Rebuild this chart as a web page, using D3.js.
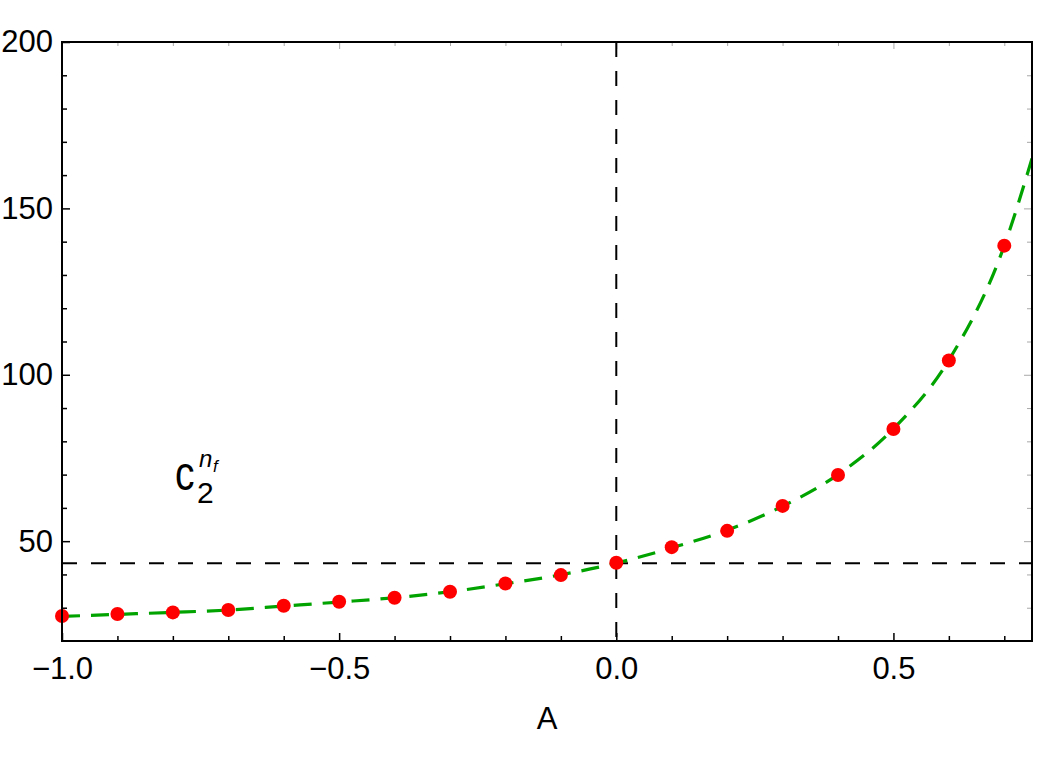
<!DOCTYPE html>
<html>
<head>
<meta charset="utf-8">
<script src="https://cdn.jsdelivr.net/npm/d3@7"></script>
<style>
  html, body { margin: 0; padding: 0; background: #fff; }
  svg { display: block; }
  text { font-family: "Liberation Sans", Arial, sans-serif; fill: #000; }
</style>
</head>
<body>
<svg id="chart" width="1042" height="761"></svg>
<script>
// ---- data ----
const aValues  = [-1.0, -0.9, -0.8, -0.7, -0.6, -0.5, -0.4, -0.3, -0.2, -0.1, 0.0, 0.1, 0.2, 0.3, 0.4, 0.5, 0.6, 0.7];
const c2Values = [27.5, 28.1, 28.6, 29.3, 30.6, 31.8, 33.0, 34.8, 37.3, 39.8, 43.5, 48.2, 53.1, 60.6, 69.9, 83.7, 104.3, 138.8];
const curveA   = [-1.0, -0.9, -0.8, -0.7, -0.6, -0.5, -0.4, -0.3, -0.2, -0.1, 0.0, 0.1, 0.2, 0.3, 0.4, 0.5, 0.6, 0.7, 0.75];
const curveC2  = [27.4, 28.0, 28.6, 29.3, 30.5, 31.7, 33.0, 34.8, 37.2, 39.9, 43.4, 48.0, 53.3, 60.5, 70.0, 83.8, 104.4, 138.8, 165.0];
const refC2 = 43.4;   // horizontal reference line
const refA  = 0.0;    // vertical reference line
const xMajorTicks = [-1.0, -0.5, 0.0, 0.5];
const xMinorTicks = [-0.9, -0.8, -0.7, -0.6, -0.4, -0.3, -0.2, -0.1, 0.1, 0.2, 0.3, 0.4, 0.6, 0.7];
const yMajorTicks = [50, 100, 150, 200];
const yMinorTicks = [30, 40, 60, 70, 80, 90, 110, 120, 130, 140, 160, 170, 180, 190];
const xDomain = [-1.0, 0.75];
const yDomain = [20, 200];

// ---- layout ----
const L = 62, R = 1032, T = 42, B = 641;
const svg = d3.select("#chart");
const x = d3.scaleLinear().domain(xDomain).range([L, R]);
const y = d3.scaleLinear().domain(yDomain).range([B, T]);

const fmtX = d3.format(".1f");
const FS = 31;

// bottom axis (major + minor, inward)
const gB = svg.append("g").attr("transform", `translate(0,${B})`);
gB.call(d3.axisBottom(x).tickValues(xMajorTicks).tickSize(-8).tickPadding(16).tickFormat(fmtX));
const gBm = svg.append("g").attr("transform", `translate(0,${B})`);
gBm.call(d3.axisBottom(x).tickValues(xMinorTicks).tickSize(-5).tickFormat(""));

// left axis
const gL = svg.append("g").attr("transform", `translate(${L},0)`);
gL.call(d3.axisLeft(y).tickValues(yMajorTicks).tickSize(-8).tickPadding(9).tickFormat(d3.format("d")));
const gLm = svg.append("g").attr("transform", `translate(${L},0)`);
gLm.call(d3.axisLeft(y).tickValues(yMinorTicks).tickSize(-5).tickFormat(""));

// top axis (grey ticks, no labels)
const gT = svg.append("g").attr("transform", `translate(0,${T})`);
gT.call(d3.axisTop(x).tickValues(xMajorTicks).tickSize(-7).tickFormat(""));
const gTm = svg.append("g").attr("transform", `translate(0,${T})`);
gTm.call(d3.axisTop(x).tickValues(xMinorTicks).tickSize(-4).tickFormat(""));

// right axis (grey ticks, no labels)
const gR = svg.append("g").attr("transform", `translate(${R},0)`);
gR.call(d3.axisRight(y).tickValues(yMajorTicks).tickSize(-8).tickFormat(""));
const gRm = svg.append("g").attr("transform", `translate(${R},0)`);
gRm.call(d3.axisRight(y).tickValues(yMinorTicks).tickSize(-5).tickFormat(""));

[gB, gBm, gL, gLm, gT, gTm, gR, gRm].forEach(g => {
  g.select(".domain").remove();
  g.selectAll("text").style("font-size", FS + "px").style("font-family", '"Liberation Sans", Arial, sans-serif').attr("fill", "#000");
});
[gB, gBm, gL, gLm].forEach(g => g.selectAll(".tick line").attr("stroke", "#000").attr("stroke-width", 1.5));
[gT, gTm, gR, gRm].forEach(g => g.selectAll(".tick line").attr("stroke", "#a8a8a8").attr("stroke-width", 1));

// reference dashed lines
svg.append("line")
  .attr("x1", x(xDomain[0])).attr("x2", x(xDomain[1]))
  .attr("y1", y(refC2)).attr("y2", y(refC2))
  .attr("stroke", "#000").attr("stroke-width", 2).attr("stroke-dasharray", "15,14");
svg.append("line")
  .attr("x1", x(refA)).attr("x2", x(refA))
  .attr("y1", y(yDomain[1])).attr("y2", y(yDomain[0]))
  .attr("stroke", "#000").attr("stroke-width", 2).attr("stroke-dasharray", "15,14");

// fitted curve (green dashed)
svg.append("clipPath").attr("id", "clip").append("rect")
  .attr("x", L).attr("y", T).attr("width", R - L).attr("height", B - T);
const curvePts = curveA.map((a, i) => [a, curveC2[i]]);
svg.append("path")
  .datum(curvePts)
  .attr("clip-path", "url(#clip)")
  .attr("fill", "none")
  .attr("stroke", "#00a300")
  .attr("stroke-width", 3.2)
  .attr("stroke-dasharray", "18,11")
  .attr("d", d3.line().x(d => x(d[0])).y(d => y(d[1])).curve(d3.curveMonotoneX));

// data points
svg.append("g").selectAll("circle")
  .data(aValues.map((a, i) => [a, c2Values[i]]))
  .join("circle")
  .attr("cx", d => x(d[0])).attr("cy", d => y(d[1]))
  .attr("r", 7).attr("fill", "#ff0000");

// frame
svg.append("rect")
  .attr("x", L).attr("y", T).attr("width", R - L).attr("height", B - T)
  .attr("fill", "none").attr("stroke", "#000").attr("stroke-width", 2);

// axis title
svg.append("text")
  .attr("x", (L + R) / 2).attr("y", 729)
  .attr("text-anchor", "middle")
  .style("font-size", FS + "px")
  .text("A");

// annotation c_2^{n_f}
svg.append("text")
  .attr("transform", "translate(175,490) scale(1,1.25)")
  .style("font-size", "39px")
  .text("c");
const ann = svg.append("text");
ann.append("tspan").attr("x", 197).attr("y", 503).style("font-size", "30px").text("2");
ann.append("tspan").attr("x", 199).attr("y", 467).style("font-size", "24px").style("font-style", "italic").text("n");
ann.append("tspan").attr("x", 213).attr("y", 472).style("font-size", "17px").style("font-style", "italic").text("f");
</script>
</body>
</html>
